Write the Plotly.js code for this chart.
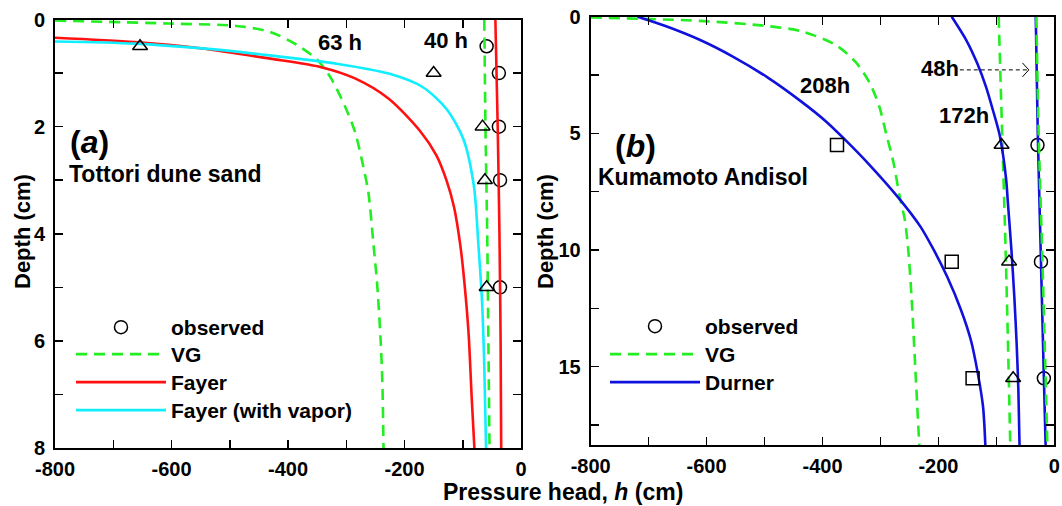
<!DOCTYPE html>
<html>
<head>
<meta charset="utf-8">
<script src="https://cdn.plot.ly/plotly-3.0.1.min.js"></script>
<style>html,body{margin:0;padding:0;background:#fff;}#chart{width:1062px;height:506px;}</style>
</head>
<body>
<div id="chart"></div>
<script>
// ---------- Panel (a): Tottori dune sand ----------
const vg63Depth   = [0.02, 0.075, 0.12, 0.23, 0.48, 0.76, 1.1, 1.6, 2.1, 2.73, 3.23, 4.23, 4.93, 5.98, 6.78, 8.0];
const vg63Head    = [-800, -605, -489, -431, -384, -349, -326, -303, -285, -271, -262, -253, -247, -241, -238, -236];
const vg40Depth   = [0, 2, 4, 6, 8];
const vg40Head    = [-63, -61, -58, -56, -54];
const fay63Depth  = [0.34, 0.42, 0.54, 0.73, 0.89, 1.1, 1.48, 2.1, 2.54, 3.0, 3.5, 4.23, 4.93, 5.86, 7.09, 8.0];
const fay63Head   = [-800, -663, -547, -431, -343, -285, -227, -172, -145, -128, -115, -104, -97, -90, -84.5, -80];
const fay40Depth  = [0, 2, 4, 6, 8];
const fay40Head   = [-44, -40, -37, -35, -34];
const fayV63Depth = [0.41, 0.45, 0.54, 0.67, 0.83, 1.01, 1.26, 1.67, 2.23, 3.1, 4.23, 5.24, 6.48, 8.0];
const fayV63Head  = [-800, -663, -547, -431, -314, -227, -169, -128, -99, -81, -73, -67, -63, -60];
const obsA40Depth = [0.5, 1, 2, 3, 5];
const obsA40Head  = [-59, -38, -38, -36, -36];
const obsA63Depth = [0.5, 1, 2, 3, 5];
const obsA63Head  = [-654, -150, -66, -62, -59];

// ---------- Panel (b): Kumamoto Andisol ----------
const vg208Depth  = [0.03, 0.18, 0.4, 0.62, 1.2, 1.94, 2.82, 3.85, 5.03, 6.2, 7.68, 8.7, 10.0, 12.14, 15, 18.36];
const vg208Head   = [-800, -612, -495, -437, -378, -343, -319, -302, -290, -278, -267, -258, -252, -246, -240, -233];
const dur208Depth = [0, 0.4, 0.99, 1.72, 2.6, 3.63, 4.51, 5.25, 6.35, 7.82, 9.0, 10.0, 11.14, 12.57, 13.86, 15.29, 16.71, 18.36];
const dur208Head  = [-719, -671, -612, -554, -495, -437, -393, -362, -319, -267, -231, -208, -185, -161, -144, -132, -123, -119];
const vg172Depth  = [0, 5, 10, 15, 18.36];
const vg172Head   = [-96, -90, -84, -79, -76];
const dur172Depth = [0, 1, 2, 3, 4, 5, 6, 7, 8, 10, 12, 14, 16, 18.36];
const dur172Head  = [-177, -152, -133, -118, -106, -95, -88, -83, -80, -74, -69, -65, -62, -60];
const vg48Depth   = [0, 5, 10, 15, 18.36];
const vg48Head    = [-31, -27, -21, -15.5, -12];
const dur48Depth  = [0, 5, 10, 15, 18.36];
const dur48Head   = [-32, -28.5, -23.5, -18.5, -15];
const obsB48Depth  = [5.5, 10.5, 15.5];
const obsB48Head   = [-29, -23, -18];
const obsB172Depth = [5.5, 10.5, 15.5];
const obsB172Head  = [-91, -78, -71];
const obsB208Depth = [5.5, 10.5, 15.5];
const obsB208Head  = [-375, -177, -141];

// ---------- ticks ----------
const hTickVals = [-800, -600, -400, -200, 0];
const hTickText = ['-800', '-600', '-400', '-200', '0'];
const depthATicks = [0, 2, 4, 6, 8];
const depthBTicks = [0, 5, 10, 15];

const FAM = 'Liberation Sans, Arial, Helvetica, sans-serif';
const GREEN = '#22ee22';
const RED = '#ff1111';
const CYAN = '#11eeff';
const BLUE = '#1111dd';

function line(x, y, color, dash, name, show, xa, ya, leg) {
  return {x: x, y: y, type: 'scatter', mode: 'lines', name: name, showlegend: show,
    legend: leg, xaxis: xa, yaxis: ya,
    line: {color: color, width: 2.6, dash: dash ? '11px,7px' : 'solid', shape: 'spline', smoothing: 0.8},
    hoverinfo: 'skip'};
}
function pts(x, y, sym, name, show, xa, ya, leg) {
  return {x: x, y: y, type: 'scatter', mode: 'markers', name: name, showlegend: show,
    legend: leg, xaxis: xa, yaxis: ya, cliponaxis: false,
    marker: {symbol: sym, size: 13, color: '#000', line: {color: '#000', width: 1.5}}, hoverinfo: 'skip'};
}

const data = [
  pts(obsA40Head, obsA40Depth, 'circle-open', 'observed', true, 'x', 'y', 'legend'),
  line(vg63Head, vg63Depth, GREEN, true, 'VG', true, 'x', 'y', 'legend3'),
  line(fay63Head, fay63Depth, RED, false, 'Fayer', true, 'x', 'y', 'legend4'),
  line(fayV63Head, fayV63Depth, CYAN, false, 'Fayer (with vapor)', true, 'x', 'y', 'legend5'),
  line(vg40Head, vg40Depth, GREEN, true, 'VG', false, 'x', 'y', 'legend3'),
  line(fay40Head, fay40Depth, RED, false, 'Fayer', false, 'x', 'y', 'legend4'),
  pts(obsA63Head, obsA63Depth, 'triangle-up-open', 'observed 63 h', false, 'x', 'y', 'legend'),

  pts(obsB48Head, obsB48Depth, 'circle-open', 'observed', true, 'x2', 'y2', 'legend2'),
  line(vg208Head, vg208Depth, GREEN, true, 'VG', true, 'x2', 'y2', 'legend6'),
  line(dur208Head, dur208Depth, BLUE, false, 'Durner', true, 'x2', 'y2', 'legend7'),
  line(vg172Head, vg172Depth, GREEN, true, 'VG', false, 'x2', 'y2', 'legend6'),
  line(dur172Head, dur172Depth, BLUE, false, 'Durner', false, 'x2', 'y2', 'legend7'),
  line(dur48Head, dur48Depth, BLUE, false, 'Durner', false, 'x2', 'y2', 'legend7'),
  line(vg48Head, vg48Depth, GREEN, true, 'VG', false, 'x2', 'y2', 'legend6'),
  pts(obsB172Head, obsB172Depth, 'triangle-up-open', 'observed 172h', false, 'x2', 'y2', 'legend2'),
  pts(obsB208Head, obsB208Depth, 'square-open', 'observed 208h', false, 'x2', 'y2', 'legend2')
];

const tickFont = {family: FAM, size: 20, color: '#000', weight: 'bold'};
function xax(domain, anchor) {
  return {domain: domain, anchor: anchor, range: [-800, 0], tickmode: 'array', tickvals: hTickVals, ticktext: hTickText,
    ticks: 'inside', ticklen: 8, tickwidth: 1.5, tickcolor: '#000', mirror: 'allticks', showline: true,
    linecolor: '#000', linewidth: 2, showgrid: false, zeroline: false, tickfont: tickFont, ticklabelstandoff: 2,
    minor: {dtick: 100, tick0: -800, ticks: 'inside', ticklen: 8, tickwidth: 1.5, tickcolor: '#000', showgrid: false}};
}
function yax(domain, anchor, range, vals, minorStep) {
  return {domain: domain, anchor: anchor, range: range, tickmode: 'array', tickvals: vals,
    ticks: 'inside', ticklen: 8, tickwidth: 1.5, tickcolor: '#000', mirror: 'allticks', showline: true,
    linecolor: '#000', linewidth: 2, showgrid: false, zeroline: false, tickfont: tickFont, ticklabelstandoff: 4,
    minor: {dtick: minorStep, tick0: 0, ticks: 'inside', ticklen: 8, tickwidth: 1.5, tickcolor: '#000', showgrid: false}};
}

const annFont = (s) => ({family: FAM, size: s, color: '#000', weight: 'bold'});
const legFont = {family: FAM, size: 21, color: '#000', weight: 'bold'};
function leg(xpx, toppx) {
  return {x: xpx / 1062, xanchor: 'left', y: 1 - toppx / 506, yanchor: 'top', itemwidth: 90,
    font: legFont, bgcolor: 'rgba(0,0,0,0)', borderwidth: 0, tracegroupgap: 0, traceorder: 'normal'};
}

const layout = {
  width: 1062, height: 506,
  margin: {l: 0, r: 0, t: 0, b: 0},
  paper_bgcolor: '#fff', plot_bgcolor: '#fff',
  xaxis: xax([55 / 1062, 521 / 1062], 'y'),
  yaxis: yax([1 - 448 / 506, 1 - 19.5 / 506], 'x', [8, 0], depthATicks, 1),
  xaxis2: xax([590.7 / 1062, 1054.3 / 1062], 'y2'),
  yaxis2: yax([1 - 445 / 506, 1 - 16.7 / 506], 'x2', [18.36, 0], depthBTicks, 2.5),
  legend: leg(71, 307),
  legend3: leg(71, 334),
  legend4: leg(71, 362),
  legend5: leg(71, 390),
  legend2: leg(605, 306),
  legend6: leg(605, 334),
  legend7: leg(605, 362),
  shapes: [
    {type: 'line', xref: 'x2', yref: 'y2', x0: -163, x1: -45, y0: 2.28, y1: 2.28,
      line: {color: '#000', width: 1, dash: '4px,3px'}},
    {type: 'path', xref: 'x2', yref: 'y2', path: 'M -55,1.98 L -44,2.28 L -55,2.58',
      line: {color: '#000', width: 1}}
  ],
  annotations: [
    {xref: 'x', yref: 'y', x: -310, y: 0.42, text: '63 h', showarrow: false, font: annFont(22)},
    {xref: 'x', yref: 'y', x: -129, y: 0.39, text: '40 h', showarrow: false, font: annFont(22)},
    {xref: 'x', yref: 'y', x: -740, y: 2.29, text: '(<i>a</i>)', showarrow: false, font: annFont(32)},
    {xref: 'x', yref: 'y', x: -779, y: 2.89, xanchor: 'left', text: 'Tottori dune sand', showarrow: false, font: annFont(23)},
    {xref: 'x2', yref: 'y2', x: -396, y: 2.94, text: '208h', showarrow: false, font: annFont(22)},
    {xref: 'x2', yref: 'y2', x: -155, y: 4.22, text: '172h', showarrow: false, font: annFont(22)},
    {xref: 'x2', yref: 'y2', x: -198, y: 2.24, text: '48h', showarrow: false, font: annFont(22)},
    {xref: 'x2', yref: 'y2', x: -723, y: 5.54, text: '(<i>b</i>)', showarrow: false, font: annFont(32)},
    {xref: 'x2', yref: 'y2', x: -790, y: 6.87, xanchor: 'left', text: 'Kumamoto Andisol', showarrow: false, font: annFont(23)},
    {xref: 'paper', yref: 'paper', x: 22 / 1062, y: 1 - 232 / 506, xanchor: 'center', yanchor: 'middle',
      text: 'Depth (cm)', textangle: -90, showarrow: false, font: annFont(22)},
    {xref: 'paper', yref: 'paper', x: 545 / 1062, y: 1 - 232 / 506, xanchor: 'center', yanchor: 'middle',
      text: 'Depth (cm)', textangle: -90, showarrow: false, font: annFont(22)},
    {xref: 'paper', yref: 'paper', x: 563 / 1062, y: 1 - 492 / 506, xanchor: 'center', yanchor: 'middle',
      borderpad: 0, text: 'Pressure head, <i>h</i> (cm)', showarrow: false, font: annFont(23)}
  ]
};

Plotly.newPlot('chart', data, layout, {staticPlot: true, displayModeBar: false});
</script>
</body>
</html>
